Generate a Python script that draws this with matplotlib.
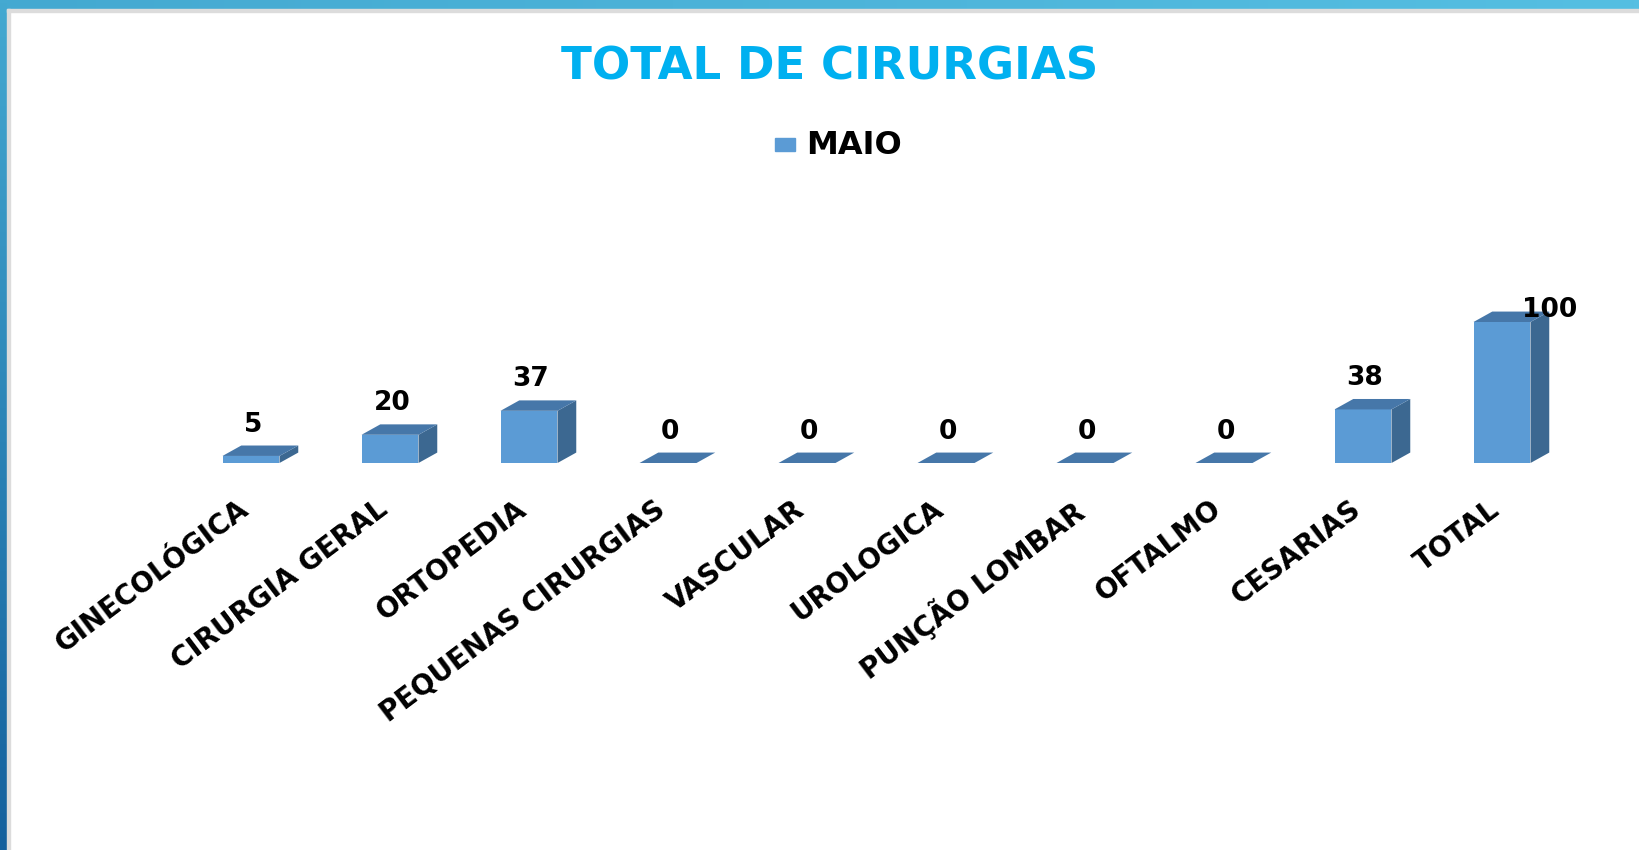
import numpy as np
import matplotlib.pyplot as plt
from matplotlib.colors import LinearSegmentedColormap
from matplotlib.patches import Rectangle, Polygon

plt.rcParams['font.family'] = ['DejaVu Sans']

# data
categories = ["GINECOLÓGICA", "CIRURGIA GERAL", "ORTOPEDIA", "PEQUENAS CIRURGIAS",
              "VASCULAR", "UROLOGICA", "PUNÇÃO LOMBAR", "OFTALMO", "CESARIAS", "TOTAL"]
maio = [5, 20, 37, 0, 0, 0, 0, 0, 38, 100]
series_name = "MAIO"
title = "TOTAL DE CIRURGIAS"

front_col = "#5B9BD5"
top_col = "#4677A9"
side_col = "#3C6891"

fig = plt.figure(figsize=(16.4, 8.5), dpi=100)
fig.patch.set_facecolor("white")

# slide frame (blue bands + grey inner line)
top_band = fig.add_axes([0, 1 - 9 / 850, 1, 9 / 850])
top_band.imshow(np.linspace(0, 1, 256).reshape(1, -1), aspect="auto",
                cmap=LinearSegmentedColormap.from_list("t", ["#44A9D1", "#55BFE2"]))
top_band.axis("off")
left_band = fig.add_axes([0, 0, 7 / 1640, 1])
left_band.imshow(np.linspace(0, 1, 256).reshape(-1, 1), aspect="auto",
                 cmap=LinearSegmentedColormap.from_list("l", ["#44A9D1", "#14609D"]))
left_band.axis("off")
fig.patches.append(Rectangle((7 / 1640, 1 - 12 / 850), 1, 3 / 850, transform=fig.transFigure,
                             color="#DCDCDC", zorder=0))
fig.patches.append(Rectangle((7 / 1640, 0), 3 / 1640, 1 - 9 / 850, transform=fig.transFigure,
                             color="#DCDCDC", zorder=0))

# main axes: x from -0.5 to 9.5, y 0..100
ax = fig.add_axes([181.5 / 1640, 387 / 850, 1390 / 1640, 141 / 850])
ax.set_xlim(-0.5, len(categories) - 0.5)
ax.set_ylim(0, 100)
ax.axis("off")

w = 0.41
dx = 0.135
dy = 7.4
last = len(maio) - 1
for i, v in enumerate(maio):
    x0, x1 = i - w / 2, i + w / 2
    if v > 0:
        ax.add_patch(Rectangle((x0, 0), w, v, facecolor=front_col, edgecolor="none", clip_on=False))
        ax.add_patch(Polygon([(x1, 0), (x1 + dx, dy), (x1 + dx, v + dy), (x1, v)],
                             facecolor=side_col, edgecolor="none", clip_on=False))
    ax.add_patch(Polygon([(x0, v), (x1, v), (x1 + dx, v + dy), (x0 + dx, v + dy)],
                         facecolor=top_col, edgecolor="none", clip_on=False))
    # "100" sits to the right of its bar, as in the source chart
    xoff = 48 if i == last else 2
    yoff = 2 if i == last else 8
    ax.annotate(str(v), xy=(i, v + dy), xytext=(xoff, yoff), textcoords="offset pixels",
                ha="center", va="center" if i == last else "bottom",
                fontsize=19, fontweight="bold", color="black", annotation_clip=False)
    ax.annotate(categories[i], xy=(i, 0), xytext=(-14, -32), textcoords="offset pixels",
                ha="right", va="top", rotation=37, rotation_mode="anchor",
                fontsize=20, fontweight="bold", color="black", annotation_clip=False)

# title and legend
fig.text(830 / 1640, 1 - 67 / 850, title, ha="center", va="center",
         fontsize=32.5, fontweight="bold", color="#00B0F0")
fig.patches.append(Rectangle((775 / 1640, 1 - 151 / 850), 20 / 1640, 13 / 850,
                             transform=fig.transFigure, color=front_col))
fig.text(806 / 1640, 1 - 146 / 850, series_name, ha="left", va="center",
         fontsize=23, fontweight="bold", color="black")

fig.savefig("out.png", dpi=100)
